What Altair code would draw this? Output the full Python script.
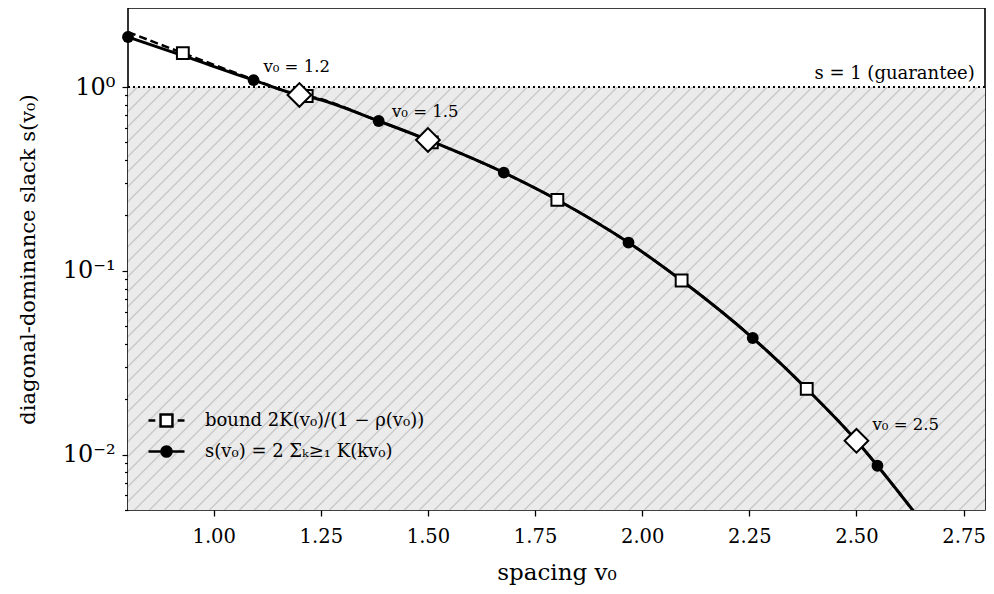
import altair as alt
import pandas as pd

# ---- data ----
# s(v0) curve (solid)
v_line = [0.80, 0.928, 1.093, 1.20, 1.217, 1.385, 1.50, 1.677, 1.802, 1.968, 2.092, 2.258, 2.384, 2.50, 2.549, 2.631, 2.80]
s_line = [1.87, 1.48, 1.09, 0.905, 0.89, 0.653, 0.515, 0.342, 0.243, 0.1425, 0.0886, 0.0431, 0.0228, 0.0119, 0.0087, 0.0050, 0.0015]
# bound curve (dashed), same abscissae
b_line = [1.99, 1.53, 1.10, 0.905, 0.893, 0.653, 0.515, 0.342, 0.243, 0.1425, 0.0886, 0.0431, 0.0228, 0.0119, 0.0087, 0.0050, 0.0015]
# circle markers on s
v_circ = [0.80, 1.093, 1.385, 1.677, 1.968, 2.258, 2.549]
s_circ = [1.87, 1.09, 0.653, 0.342, 0.1425, 0.0431, 0.0087]
# square markers on bound
v_sq = [0.928, 1.217, 1.509, 1.802, 2.092, 2.384]
b_sq = [1.53, 0.893, 0.50, 0.243, 0.0886, 0.0228]
# highlighted spacings
v_dia = [1.2, 1.5, 2.5]
s_dia = [0.905, 0.515, 0.0119]
dia_labels = ["v₀ = 1.2", "v₀ = 1.5", "v₀ = 2.5"]

series = ["bound 2K(v₀)/(1 − ρ(v₀))", "s(v₀) = 2 Σₖ≥₁ K(kv₀)"]
x_ticks = [1.00, 1.25, 1.50, 1.75, 2.00, 2.25, 2.50, 2.75]
y_ticks = [0.005, 0.006, 0.007, 0.008, 0.009,
           0.01, 0.02, 0.03, 0.04, 0.05, 0.06, 0.07, 0.08, 0.09,
           0.1, 0.2, 0.3, 0.4, 0.5, 0.6, 0.7, 0.8, 0.9, 1, 2]
guarantee = 1.0

W, H = 857, 502
FONT = "DejaVu Serif"

xs = alt.Scale(domain=[0.8, 2.8], nice=False, zero=False)
ys = alt.Scale(type="log", domain=[0.005, 2.69], nice=False)

x_axis = alt.Axis(values=x_ticks, format=".2f", title="spacing v₀", grid=False, domain=False,
                  tickSize=6, tickWidth=1.3, tickColor="black", labelColor="black",
                  labelFont=FONT, labelFontSize=19.5, labelPadding=11,
                  titleFont=FONT, titleFontSize=23, titleFontWeight="normal",
                  titleColor="black", titlePadding=16, labelFlush=False)
y_axis = alt.Axis(values=y_ticks, title="diagonal-dominance slack s(v₀)", grid=False, domain=False,
                  labelExpr="datum.value == 1 ? '10⁰' : datum.value == 0.1 ? '10⁻¹' : datum.value == 0.01 ? '10⁻²' : ''",
                  tickSize={"condition": {"test": "datum.value == 1 || datum.value == 0.1 || datum.value == 0.01", "value": 6}, "value": 3.5},
                  tickWidth=1.2, tickColor="black", labelColor="black",
                  labelFont=FONT, labelFontSize=24, labelPadding=7, labelFlush=False,
                  titleFont=FONT, titleFontSize=21, titleFontWeight="normal",
                  titleColor="black", titlePadding=24)

X = lambda f: alt.X(f, scale=xs, axis=x_axis)
Y = lambda f: alt.Y(f, scale=ys, axis=y_axis)

df_line = pd.DataFrame({"v": v_line, "s": s_line, "b": b_line})
df_circ = pd.DataFrame({"v": v_circ, "s": s_circ})
df_sq = pd.DataFrame({"v": v_sq, "s": b_sq})
df_dia = pd.DataFrame({"v": v_dia, "s": s_dia, "label": dia_labels})
df_g = pd.DataFrame({"s": [guarantee]})

# shaded region below s = 1
bg = alt.Chart(pd.DataFrame({"lo": [0.005], "hi": [guarantee]})).mark_rect(color="#ebebeb").encode(
    x=alt.value(0), x2=alt.value(W), y=Y("hi:Q"), y2="lo:Q")

hatch = alt.Chart(alt.sequence(start=-0.2, stop=2.8, step=0.035, as_="x0")).transform_calculate(
    x1="datum.x0 + 0.987", lo="0.005", hi="1"
).mark_rule(clip=True, color="#c9c9c9", strokeWidth=1.4).encode(
    x=X("x0:Q"), x2="x1:Q", y=Y("lo:Q"), y2="hi:Q")

gline = alt.Chart(df_g).mark_rule(color="black", strokeWidth=2, strokeDash=[2, 3]).encode(y=Y("s:Q"))

gtext = alt.Chart(pd.DataFrame({"v": [2.776], "s": [guarantee], "t": ["s = 1 (guarantee)"]})).mark_text(
    align="right", baseline="bottom", dy=-4, font=FONT, fontSize=18, color="black").encode(
    x=X("v:Q"), y=Y("s:Q"), text="t:N")

bound_line = alt.Chart(df_line).mark_line(color="black", strokeWidth=2.5, strokeDash=[8, 4],
                                           clip=True, interpolate="monotone").encode(
    x=X("v:Q"), y=Y("b:Q"))

s_curve = alt.Chart(df_line).mark_line(color="black", strokeWidth=3, clip=True, interpolate="monotone").encode(
    x=X("v:Q"), y=Y("s:Q"))

squares = alt.Chart(df_sq).mark_point(shape="square", size=140, filled=True, fill="white",
                                      stroke="black", strokeWidth=2, opacity=1).encode(
    x=X("v:Q"), y=Y("s:Q"))

circles = alt.Chart(df_circ).mark_point(shape="circle", size=140, filled=True, color="black", opacity=1).encode(
    x=X("v:Q"), y=Y("s:Q"))

diamonds = alt.Chart(df_dia).mark_point(shape="diamond", size=560, filled=True, fill="white",
                                        stroke="black", strokeWidth=2, opacity=1).encode(
    x=X("v:Q"), y=Y("s:Q"))

lab_a = alt.Chart(df_dia).transform_filter("datum.v < 2").mark_text(
    align="left", baseline="middle", dx=-36, dy=-28, font=FONT, fontSize=16.5, color="black").encode(
    x=X("v:Q"), y=Y("s:Q"), text="label:N")
lab_b = alt.Chart(df_dia).transform_filter("datum.v > 2").mark_text(
    align="left", baseline="middle", dx=16, dy=-16, font=FONT, fontSize=16.5, color="black").encode(
    x=X("v:Q"), y=Y("s:Q"), text="label:N")

path_bound = "M-1,0H-0.62M0.62,0H1M-0.33,-0.33H0.33V0.33H-0.33Z"
path_s = "M-1,0H1M0.28,0A0.28,0.28 0 1,1 -0.28,0A0.28,0.28 0 1,1 0.28,0Z"
leg_props = dict(orient="none", legendX=19, legendY=393, title=None, labelFont=FONT, labelFontSize=18,
                 labelColor="black", symbolSize=1296, symbolStrokeWidth=2.5,
                 labelOffset=19, rowPadding=0, padding=0, labelLimit=500)
legend_layer = alt.Chart(pd.DataFrame({"series": series})).transform_filter("false").mark_point(
    size=1296, filled=True, strokeWidth=2.5, opacity=1).encode(
    shape=alt.Shape("series:N", scale=alt.Scale(domain=series, range=[path_bound, path_s]),
                    legend=alt.Legend(**leg_props)),
    fill=alt.Fill("series:N", scale=alt.Scale(domain=series, range=["white", "black"]),
                  legend=alt.Legend(**leg_props)),
    stroke=alt.Stroke("series:N", scale=alt.Scale(domain=series, range=["black", "black"]),
                      legend=alt.Legend(**leg_props)))

chart = alt.layer(bg, hatch, gline, gtext, bound_line, s_curve, squares, circles, diamonds,
                  lab_a, lab_b, legend_layer).properties(
    width=W, height=H, autosize="none", background="white",
    padding={"left": 120, "top": 0, "right": 1, "bottom": 76},
).configure_view(stroke="black", strokeWidth=1.6)

chart.save("out.html", embed_options={"renderer": "svg", "actions": False})
